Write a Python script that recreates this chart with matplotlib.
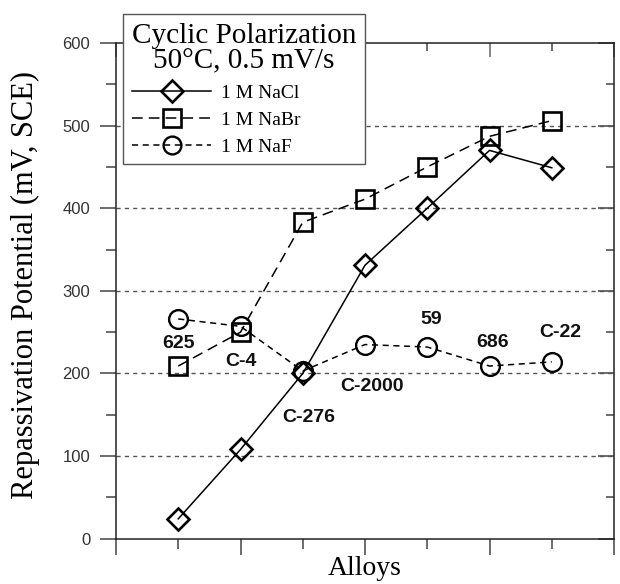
import numpy as np
import matplotlib
matplotlib.use("Agg")
import matplotlib.pyplot as plt
from matplotlib.ticker import MultipleLocator

# alloy positions and names
alloys = ["625", "C-4", "C-276", "C-2000", "59", "686", "C-22"]
xpos = [1, 2, 3, 4, 5, 6, 7]

nacl = [24, 108, 200, 331, 400, 470, 449]
nabr = [209, 250, 383, 411, 450, 487, 506]
naf = [266, 257, 203, 235, 232, 209, 214]

# where the alloy names sit (data coords)
label_x = [1.0, 2.0, 3.1, 4.11, 5.06, 6.05, 7.13]
label_y = [236, 215, 147, 184, 265, 237, 249]

fig = plt.figure(figsize=(6.2, 5.84), dpi=100)
ax = fig.add_axes([116/620, 1 - 538.7/584, (614-116)/620, (538.7-43)/584])

serif = "Liberation Serif"
sans = "Liberation Sans"

# inward ticks on top and right (drawn under the main axes)
axr = ax.twinx()
axr.set_ylim(0, 600)
axr.yaxis.set_major_locator(MultipleLocator(100))
axr.yaxis.set_minor_locator(MultipleLocator(50))
axr.tick_params(axis="y", which="major", direction="in", length=11.5, width=1.1,
                color="#444444", labelright=False)
axr.tick_params(axis="y", which="minor", direction="in", length=6, width=1.1,
                color="#444444")
axt = ax.twiny()
axt.set_xlim(0, 8)
axt.xaxis.set_major_locator(MultipleLocator(2))
axt.xaxis.set_minor_locator(MultipleLocator(1))
axt.tick_params(axis="x", which="major", direction="in", length=10, width=1.1,
                color="#666666", labeltop=False)
axt.tick_params(axis="x", which="minor", direction="in", length=6, width=1.1,
                color="#444444")
for a in (axr, axt):
    for s in a.spines.values():
        s.set_visible(False)
ax.set_zorder(axt.get_zorder() + 1)
ax.patch.set_visible(False)

ax.plot(xpos, nacl, color="black", lw=1.1, marker="D", ms=11.5, mfc="none",
        mec="black", mew=1.9, label="1 M NaCl")
ax.plot(xpos, nabr, color="black", lw=1.1, ls=(0, (7, 4)), marker="s", ms=13,
        mfc="none", mec="black", mew=1.9, label="1 M NaBr")
ax.plot(xpos, naf, color="black", lw=1.1, ls=(0, (4, 3)), marker="o", ms=13.5,
        mfc="none", mec="black", mew=1.7, label="1 M NaF")

for name, lx, ly in zip(alloys, label_x, label_y):
    ax.text(lx, ly, name, ha="center", va="center", fontsize=14,
            fontweight="bold", family=sans, color="#111111")

ax.set_xlim(0, 8)
ax.set_ylim(0, 600)

# dashed gridlines
for gy in [100, 200, 300, 400, 500]:
    ax.axhline(gy, color="#555555", lw=1.0, ls=(0, (3, 3)), zorder=0)

ax.xaxis.set_major_locator(MultipleLocator(2))
ax.xaxis.set_minor_locator(MultipleLocator(1))
ax.yaxis.set_major_locator(MultipleLocator(100))
ax.yaxis.set_minor_locator(MultipleLocator(50))
ax.set_xticklabels([])
ax.tick_params(axis="both", which="major", direction="out", length=11.5,
               width=1.1, color="#444444", top=False, right=False)
ax.tick_params(axis="both", which="minor", direction="out", length=7,
               width=1.1, color="#444444", top=False, right=False)
ax.tick_params(axis="y", labelsize=12, labelcolor="#333333", pad=7)
for lab in ax.get_yticklabels():
    lab.set_family(sans)

for s in ax.spines.values():
    s.set_linewidth(1.1)
    s.set_color("#222222")

ax.set_xlabel("Alloys", family=serif, fontsize=20, va="top")
ax.xaxis.set_label_coords(0.5, -0.034)
ax.set_ylabel("Repassivation Potential (mV, SCE)", family=serif, fontsize=22)
ax.yaxis.set_label_coords(-0.152, 0.512)

leg = ax.legend(loc="upper left", bbox_to_anchor=(123/620, 1 - 14/584),
                bbox_transform=fig.transFigure,
                title="Cyclic Polarization\n50\u00b0C, 0.5 mV/s",
                prop={"family": serif, "size": 14}, handlelength=4.1,
                fancybox=False, framealpha=1, edgecolor="#555555",
                borderaxespad=0, borderpad=0.45, labelspacing=0.48,
                handletextpad=0.5, markerscale=0.95, alignment="left")
title = leg.get_title()
title.set_family(serif)
title.set_fontsize(21)
title.set_multialignment("center")
title.set_linespacing(1.0)
leg.get_frame().set_linewidth(1.0)

fig.savefig("out.png", dpi=100)
